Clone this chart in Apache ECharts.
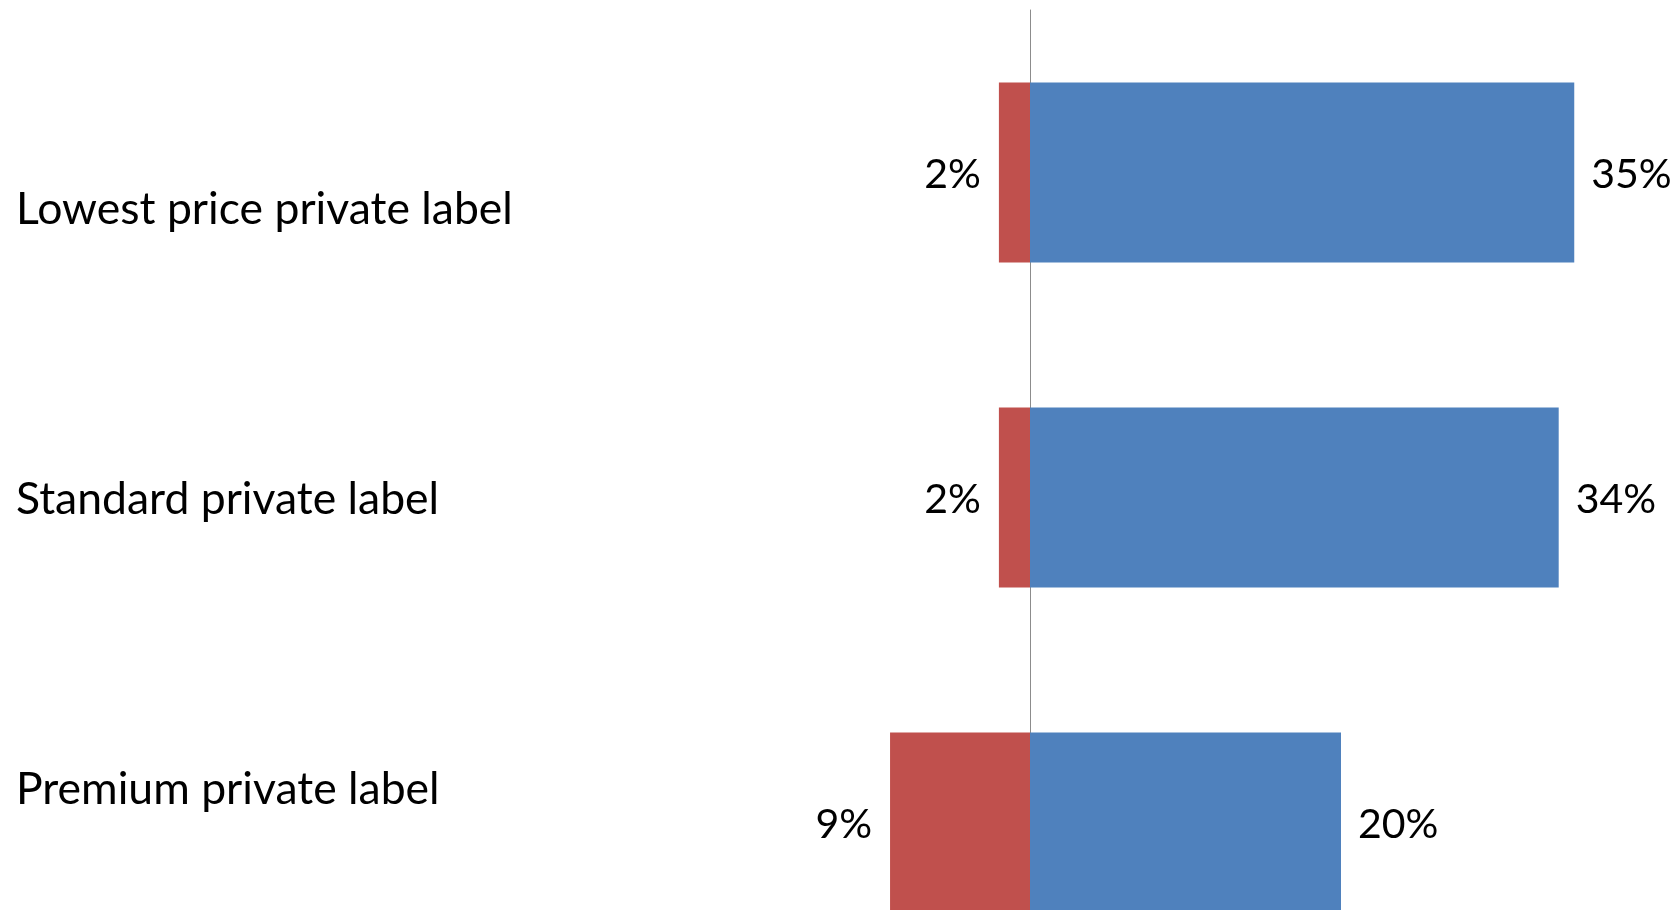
<!DOCTYPE html>
<html>
<head>
<meta charset="utf-8">
<script src="https://cdn.jsdelivr.net/npm/echarts@6/dist/echarts.min.js"></script>
<style>
  html, body { margin: 0; padding: 0; background: #fff; }
  #main { width: 1677px; height: 910px; }
</style>
</head>
<body>
<div id="main"></div>
<script>
// chart values
const categories = ['Lowest price private label', 'Standard private label', 'Premium private label'];
const positive = [35, 34, 20];
const negative = [-2, -2, -9];

const red = '#C0504D';
const blue = '#4F81BD';
const font = 'Lato, "Open Sans", sans-serif';

const pct = p => Math.abs(p.value) + '%';

const myChart = echarts.init(document.getElementById('main'));
myChart.setOption({
  animation: false,
  backgroundColor: '#fff',
  grid: [
    // bars grid, runs past the bottom of the canvas like the source
    { left: 719, top: 10, width: 933, height: 975, outerBoundsMode: 'none', containLabel: false },
    // separate grid only for the category names on the left
    { left: 7, top: 65, width: 1, height: 870, outerBoundsMode: 'none', containLabel: false }
  ],
  xAxis: [
    { type: 'value', gridIndex: 0, min: -20, max: 40, show: false, splitLine: { show: false } },
    { type: 'value', gridIndex: 1, show: false }
  ],
  yAxis: [
    {
      type: 'category', gridIndex: 0, data: categories, inverse: true,
      axisLine: { show: true, onZero: true, lineStyle: { color: '#8c8c8c', width: 1 } },
      axisTick: { show: false },
      axisLabel: { show: false }
    },
    {
      type: 'category', gridIndex: 1, data: categories, inverse: true, position: 'right',
      axisLine: { show: false },
      axisTick: { show: false },
      axisLabel: { margin: 8, color: '#000', fontSize: 44.5, fontFamily: font, align: 'left' }
    }
  ],
  series: [
    {
      name: 'negative', type: 'bar', stack: 'total', data: negative,
      barWidth: 180,
      itemStyle: { color: red },
      label: { show: true, position: 'left', distance: 18, offset: [0, 2], formatter: pct, color: '#000', fontSize: 41, fontFamily: font }
    },
    {
      name: 'positive', type: 'bar', stack: 'total', data: positive,
      barWidth: 180,
      itemStyle: { color: blue },
      label: { show: true, position: 'right', distance: 17, offset: [0, 2], formatter: pct, color: '#000', fontSize: 41, fontFamily: font }
    }
  ]
});
</script>
</body>
</html>
